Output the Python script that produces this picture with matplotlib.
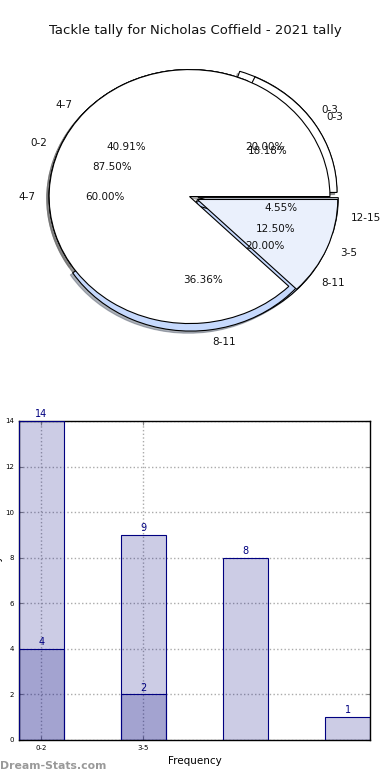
import matplotlib
matplotlib.use("Agg")
import matplotlib.pyplot as plt

# ---- data ----
title = "Tackle tally for Nicholas Coffield - 2021 tally"

pie_a_labels = ['0-3', '4-7', '8-11', '12-15']
pie_a_values = [4, 9, 8, 1]
pie_a_colors = ['white', 'white', '#c6d9fd', '#eaf0fc']

pie_b_labels = ['0-2', '3-5']
pie_b_values = [7, 1]
pie_b_colors = ['white', '#eaf0fc']

pie_c_labels = ['0-3', '4-7', '8-11']
pie_c_values = [1, 3, 1]
pie_c_colors = ['white', 'white', '#c6d9fd']

bar_a_values = [14, 9, 8, 1]
bar_b_values = [4, 2]
bar_tick_labels = ['0-2', '3-5']

EXPL = 0.06

fig = plt.figure(figsize=(3.9, 7.8), dpi=100)
fig.text(0.5, 0.961, title, ha='center', va='center', fontsize=9.5, color='#111111')

# ---- pies ----
axp = fig.add_axes([0.036, 0.5445, 0.9, 0.407])

def draw_pie(values, labels, colors):
    mx = max(values)
    explode = [0 if v == mx else EXPL for v in values]
    axp.pie(
        values, labels=labels, colors=colors, explode=explode,
        autopct='%1.2f%%',
        shadow=dict(ox=-0.012, oy=-0.012, shade=0.55),
        startangle=0,
        wedgeprops=dict(edgecolor='black', linewidth=0.8),
        textprops=dict(fontsize=7.5, color='#111111'))

draw_pie(pie_c_values, pie_c_labels, pie_c_colors)
draw_pie(pie_a_values, pie_a_labels, pie_a_colors)
draw_pie(pie_b_values, pie_b_labels, pie_b_colors)
axp.set_aspect('auto')
axp.set_xlim(-1.25, 1.25)
axp.set_ylim(-1.25, 1.25)
axp.axis('off')

# ---- bars ----
axb = fig.add_axes([0.0487, 0.0513, 0.9, 0.409])
xa = list(range(len(bar_a_values)))
xb = list(range(len(bar_b_values)))
width = 0.44
axb.bar(xa, bar_a_values, width=width, color='navy', alpha=0.2, zorder=2)
axb.bar(xa, bar_a_values, width=width, facecolor='none', edgecolor='navy', linewidth=0.8, zorder=3)
axb.bar(xb, bar_b_values, width=width, color='navy', alpha=0.2, zorder=2)
axb.bar(xb, bar_b_values, width=width, facecolor='none', edgecolor='navy', linewidth=0.8, zorder=3)
for x, v in zip(xa, bar_a_values):
    axb.text(x, v + 0.08, str(v), ha='center', va='bottom', color='navy', fontsize=7)
for x, v in zip(xb, bar_b_values):
    axb.text(x, v + 0.08, str(v), ha='center', va='bottom', color='navy', fontsize=7)

axb.set_xlim(-width / 2, len(bar_a_values) - 1 + width / 2)
axb.set_ylim(0, 14)
axb.set_yticks(range(0, 15, 2))
axb.set_xticks(xb)
axb.set_xticklabels(bar_tick_labels)
axb.tick_params(axis='both', labelsize=5, length=3, color='#888888', direction='in', right=True, top=True)
axb.grid(True, linestyle=':', color='#aaaaaa', linewidth=1, zorder=0)
axb.set_axisbelow(True)
for s in axb.spines.values():
    s.set_linewidth(1.0)
    s.set_color('black')
axb.set_xlabel('Frequency', fontsize=7.5, labelpad=4)
axb.set_ylabel('Total Tally', fontsize=7.5)
axb.yaxis.set_label_coords(-0.045, 0.5)

fig.text(0.0, 0.012, 'Dream-Stats.com', ha='left', va='bottom', fontsize=7.8,
         color='#999999', fontweight='bold')

fig.savefig('out.png', dpi=100)
